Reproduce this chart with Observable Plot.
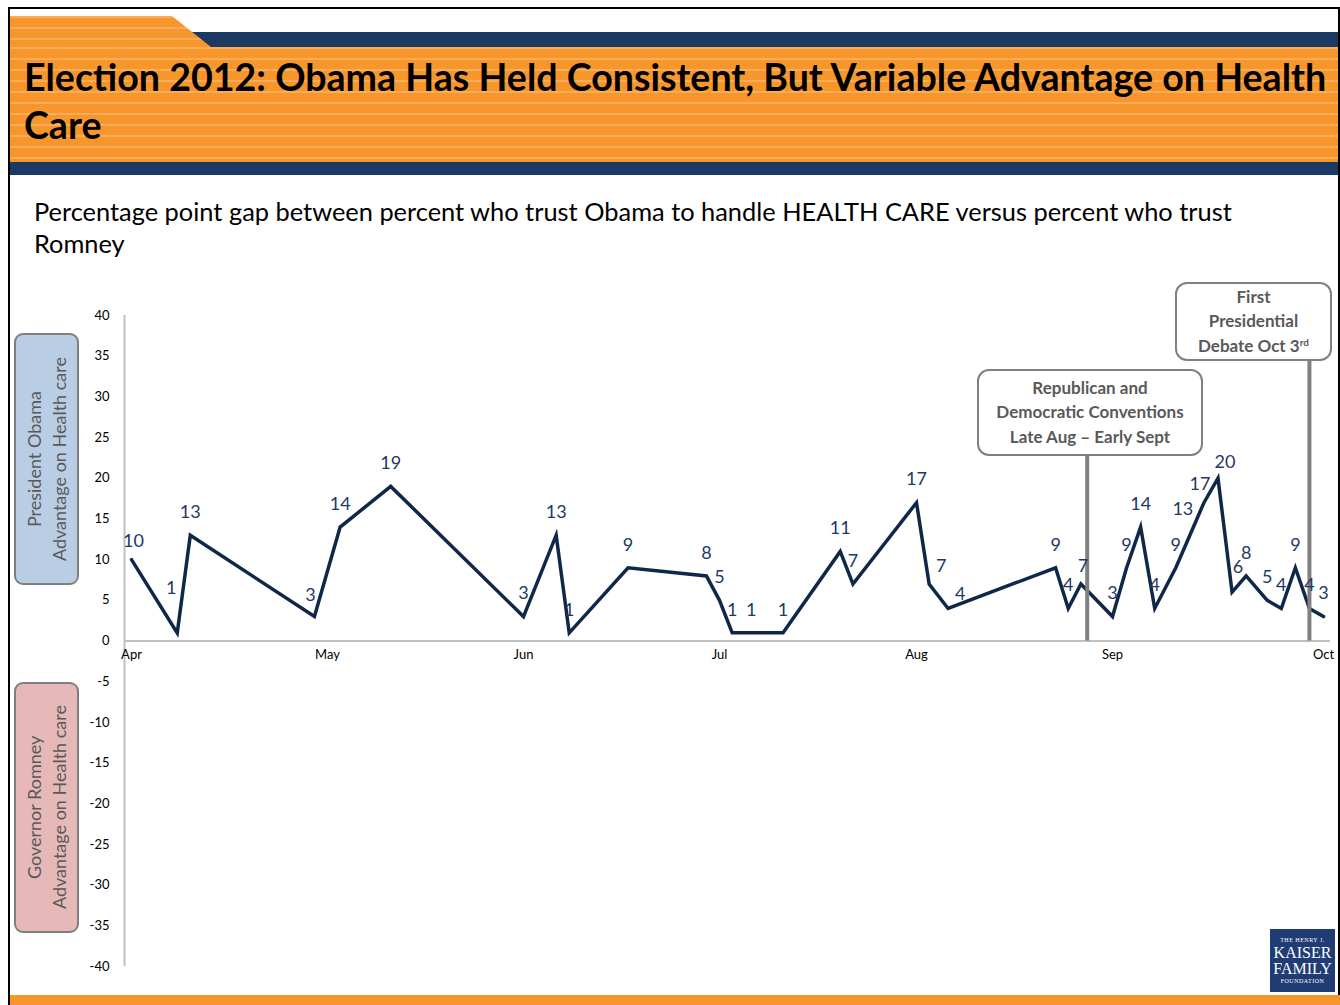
<!DOCTYPE html>
<html>
<head>
<meta charset="utf-8">
<script src="https://cdn.jsdelivr.net/npm/d3@7"></script>
<script src="https://cdn.jsdelivr.net/npm/@observablehq/plot@0.6"></script>
<style>
  html, body { margin: 0; padding: 0; background: #fff; }
  body { width: 1340px; height: 1005px; position: relative; overflow: hidden; font-family: Lato, "Open Sans", sans-serif; }
  .abs { position: absolute; box-sizing: border-box; }
  .frame { left: 8px; top: 7px; width: 1332px; height: 1010px; border: 2px solid #000; }
  .orange { background-color: #F7962B;
    background-image: repeating-linear-gradient(to bottom, rgba(255,255,255,0.22) 0 2px, transparent 2px 11px); }
  .navy { background: #1B3A63; }
  .tab { left: 10px; top: 16px; width: 201px; height: 31px; clip-path: polygon(0 0, 162px 0, 201px 100%, 0 100%); }
  .title { left: 24px; top: 53px; font-weight: 700; font-size: 37.6px; line-height: 48px; color: #000; white-space: nowrap; }
  .subtitle { left: 34px; top: 195px; font-size: 25.4px; line-height: 32px; color: #000; white-space: nowrap; }
  .side { left: 14px; width: 65px; border: 2px solid #7F7F7F; border-radius: 9px; display: flex; align-items: center; justify-content: center; }
  .side span { writing-mode: vertical-rl; transform: rotate(180deg); text-align: center; color: #595959; font-size: 18px; line-height: 25px; white-space: nowrap; }
  .note { background: #fff; border: 2px solid #808080; border-radius: 12px; display: flex; align-items: center; justify-content: center; text-align: center; color: #595959; font-weight: 700; font-size: 17px; line-height: 24.5px; }
  .note sup { font-size: 10px; line-height: 0; vertical-align: 6px; }
  .logo { left: 1270px; top: 929px; width: 65px; height: 63px; background: #1F3C74; color: #fff; font-family: "Liberation Serif", "DejaVu Serif", serif; text-align: center; display: flex; flex-direction: column; justify-content: center; }
  .logo .small { font-size: 6px; letter-spacing: 0.5px; line-height: 9px; }
  .logo .big { font-size: 16px; line-height: 16px; }
  #chart { position: absolute; left: 0; top: 270px; }
</style>
</head>
<body>
<div class="abs frame"></div>
<div class="abs navy" style="left:10px;top:32px;width:1328px;height:15px"></div>
<div class="abs orange tab"></div>
<div class="abs orange" style="left:10px;top:47px;width:1328px;height:115px"></div>
<div class="abs navy" style="left:10px;top:162px;width:1328px;height:13px"></div>
<div class="abs title">Election 2012: Obama Has Held Consistent, But Variable Advantage on Health<br>Care</div>
<div class="abs subtitle">Percentage point gap between percent who trust Obama to handle HEALTH CARE versus percent who trust<br>Romney</div>

<div id="chart"></div>

<div class="abs side" style="top:333px;height:252px;background:#B9CDE5"><span>President Obama<br>Advantage on Health care</span></div>
<div class="abs side" style="top:682px;height:251px;background:#E6B9B8"><span>Governor Romney<br>Advantage on Health care</span></div>

<div class="abs note" style="left:977px;top:369px;width:226px;height:87px"><div>Republican and<br>Democratic Conventions<br>Late Aug – Early Sept</div></div>
<div class="abs note" style="left:1175px;top:282px;width:157px;height:79px"><div>First<br>Presidential<br>Debate Oct 3<sup>rd</sup></div></div>

<div class="abs logo"><div class="small">THE HENRY J.</div><div class="big">KAISER</div><div class="big">FAMILY</div><div class="small">FOUNDATION</div></div>
<div class="abs orange" style="left:10px;top:995px;width:1330px;height:10px;background-image:none"></div>

<script>
// Poll dates and Obama-minus-Romney trust gap on health care (percentage points)
const pollDates = [
  "2012-04-01", "2012-04-08", "2012-04-10", "2012-04-29", "2012-05-03", "2012-05-11",
  "2012-06-01", "2012-06-06", "2012-06-08", "2012-06-17", "2012-06-29",
  "2012-07-01", "2012-07-03", "2012-07-06", "2012-07-11", "2012-07-20", "2012-07-22",
  "2012-08-01", "2012-08-03", "2012-08-06", "2012-08-23", "2012-08-25", "2012-08-27",
  "2012-09-01", "2012-09-03", "2012-09-05", "2012-09-07", "2012-09-10", "2012-09-12",
  "2012-09-14", "2012-09-16", "2012-09-18", "2012-09-20", "2012-09-23", "2012-09-25",
  "2012-09-27", "2012-09-29", "2012-10-01"
];
const healthGap = [
  10, 1, 13, 3, 14, 19,
  3, 13, 1, 9, 8,
  5, 1, 1, 1, 11, 7,
  17, 7, 4, 9, 4, 7,
  3, 9, 14, 4, 9, 13,
  17, 20, 6, 8, 5, 4,
  9, 4, 3
];

// Month tick labels along the zero line
const monthTicks = ["2012-04-01", "2012-05-01", "2012-06-01", "2012-07-01", "2012-08-01", "2012-09-01", "2012-10-01"];
const yTicks = d3.range(-40, 41, 5);

// Campaign events marked with vertical rules (top = where the rule meets its note box)
const eventDates = ["2012-08-28", "2012-09-29"];
const eventTops = [22.7, 34.4];

const parse = d3.utcParse("%Y-%m-%d");
const polls = pollDates.map((d, i) => ({day: d, date: parse(d), gap: healthGap[i]}));
const months = monthTicks.map(parse);
const events = eventDates.map((d, i) => ({date: parse(d), top: eventTops[i]}));

// Month-anchored time axis: each calendar month gets its own segment
const axisStart = parse("2012-03-31");
const xDomain = [axisStart, ...months];
const xRange = [124, 131, 327, 523, 719, 916, 1112, 1323];

// Label nudges [dx, dy] where a value label would collide with the line
const defaultNudge = [0, -23];
const labelNudges = new Map([
  ["2012-04-01", [2, -18]],
  ["2012-04-08", [-6, -45]],
  ["2012-04-29", [-4, -21]],
  ["2012-08-03", [12, -18]],
  ["2012-08-06", [12, -14]],
  ["2012-08-27", [2, -18]],
  ["2012-09-12", [-7, -26]],
  ["2012-09-14", [-4, -18]],
  ["2012-09-16", [7, -16]],
  ["2012-09-18", [6, -25]]
]);
const labelGroups = d3.groups(polls, d => (labelNudges.get(d.day) ?? defaultNudge).join(","));
const fmtMonth = d3.utcFormat("%b");

const chart = Plot.plot({
  width: 1340,
  height: 735,
  marginLeft: 124,
  marginRight: 10,
  marginTop: 45,
  marginBottom: 39,
  style: {fontFamily: "Lato, 'Open Sans', sans-serif", fontSize: "13px", color: "#000", background: "transparent"},
  x: {type: "utc", domain: xDomain, range: xRange, axis: null},
  y: {domain: [-40, 40]},
  marks: [
    Plot.ruleY([0], {stroke: "#BFBFBF", strokeWidth: 2}),
    Plot.ruleX([axisStart], {y1: -40, y2: 40, stroke: "#BFBFBF", strokeWidth: 2}),
    Plot.axisY({ticks: yTicks, tickSize: 0, tickPadding: 15, label: null, tickFormat: d => String(d), fontSize: 13}),
    Plot.text(months, {x: d => d, y: () => 0, text: d => fmtMonth(d), dy: 14, fontSize: 13, fill: "#000"}),
    Plot.line(polls, {x: "date", y: "gap", stroke: "#0F2748", strokeWidth: 3.5, strokeLinejoin: "miter", strokeMiterlimit: 6}),
    Plot.ruleX(events, {x: "date", y1: 0, y2: "top", stroke: "#808080", strokeWidth: 4}),
    ...labelGroups.map(([key, rows]) => {
      const [dx, dy] = key.split(",").map(Number);
      return Plot.text(rows, {x: "date", y: "gap", text: d => String(d.gap), dx, dy, fontSize: 18, fill: "#1F3864"});
    })
  ]
});
document.getElementById("chart").append(chart);
</script>
</body>
</html>
